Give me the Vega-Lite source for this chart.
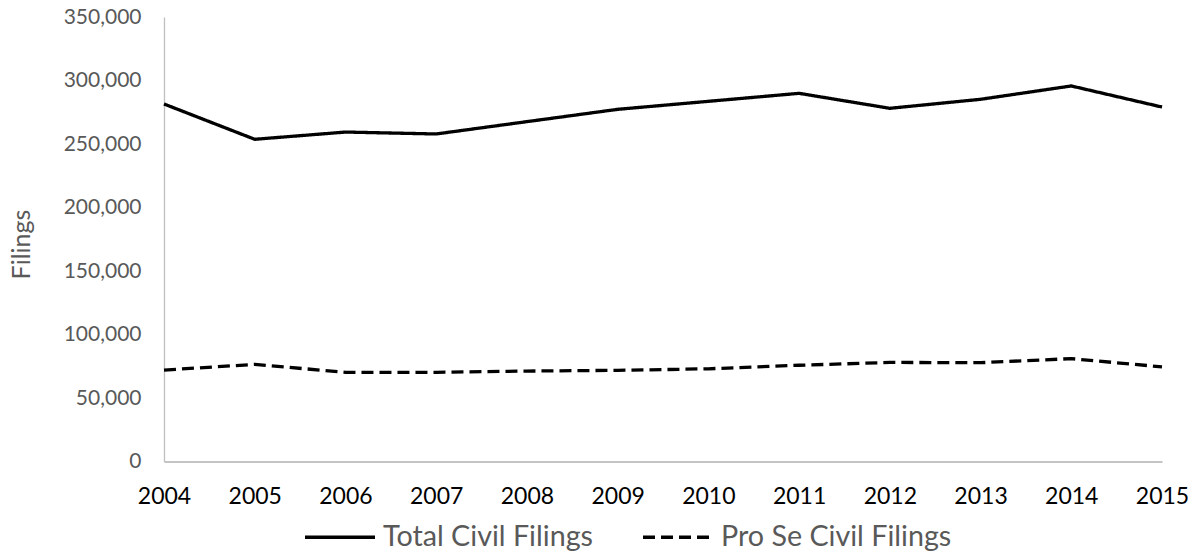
{
  "$schema": "https://vega.github.io/schema/vega-lite/v6.json",
  "width": 998,
  "height": 444.5,
  "autosize": {"type": "none"},
  "padding": {"left": 164, "top": 17, "right": 33, "bottom": 93.5},
  "config": {
    "view": {"stroke": null},
    "font": "Lato",
    "legend": {
      "orient": "none",
      "legendX": 139,
      "legendY": 483,
      "direction": "horizontal",
      "symbolType": "stroke",
      "symbolSize": 4900,
      "symbolStrokeWidth": 3.5,
      "labelFontSize": 28.7,
      "labelColor": "#595959",
      "labelOffset": 6,
      "labelLimit": 0,
      "columnPadding": 42,
      "padding": 0
    }
  },
  "data": {
    "values": [
      {"year": 2004, "series": "Total Civil Filings", "filings": 281500},
      {"year": 2005, "series": "Total Civil Filings", "filings": 253700},
      {"year": 2006, "series": "Total Civil Filings", "filings": 259400},
      {"year": 2007, "series": "Total Civil Filings", "filings": 257900},
      {"year": 2008, "series": "Total Civil Filings", "filings": 267600},
      {"year": 2009, "series": "Total Civil Filings", "filings": 277300},
      {"year": 2010, "series": "Total Civil Filings", "filings": 283600},
      {"year": 2011, "series": "Total Civil Filings", "filings": 289900},
      {"year": 2012, "series": "Total Civil Filings", "filings": 278100},
      {"year": 2013, "series": "Total Civil Filings", "filings": 285200},
      {"year": 2014, "series": "Total Civil Filings", "filings": 295700},
      {"year": 2015, "series": "Total Civil Filings", "filings": 279100},
      {"year": 2004, "series": "Pro Se Civil Filings", "filings": 72000},
      {"year": 2005, "series": "Pro Se Civil Filings", "filings": 76500},
      {"year": 2006, "series": "Pro Se Civil Filings", "filings": 70200},
      {"year": 2007, "series": "Pro Se Civil Filings", "filings": 70200},
      {"year": 2008, "series": "Pro Se Civil Filings", "filings": 71200},
      {"year": 2009, "series": "Pro Se Civil Filings", "filings": 71800},
      {"year": 2010, "series": "Pro Se Civil Filings", "filings": 73000},
      {"year": 2011, "series": "Pro Se Civil Filings", "filings": 75800},
      {"year": 2012, "series": "Pro Se Civil Filings", "filings": 78000},
      {"year": 2013, "series": "Pro Se Civil Filings", "filings": 77800},
      {"year": 2014, "series": "Pro Se Civil Filings", "filings": 81000},
      {"year": 2015, "series": "Pro Se Civil Filings", "filings": 74500}
    ]
  },
  "mark": {"type": "line", "strokeWidth": 3.3, "strokeCap": "butt", "strokeJoin": "round"},
  "encoding": {
    "x": {
      "field": "year",
      "type": "quantitative",
      "scale": {"domain": [2004, 2015], "nice": false, "zero": false},
      "axis": {
        "values": [2004, 2005, 2006, 2007, 2008, 2009, 2010, 2011, 2012, 2013, 2014, 2015],
        "format": "d",
        "title": null,
        "grid": false,
        "ticks": false,
        "labelFontSize": 23,
        "labelColor": "#000000",
        "labelPadding": 24,
        "labelFlush": false,
        "domainColor": "#b0b0b0",
        "domainWidth": 1.3
      }
    },
    "y": {
      "field": "filings",
      "type": "quantitative",
      "scale": {"domain": [0, 350000], "nice": false},
      "axis": {
        "values": [0, 50000, 100000, 150000, 200000, 250000, 300000, 350000],
        "format": ",d",
        "title": "Filings",
        "grid": false,
        "ticks": false,
        "labelFontSize": 21,
        "labelColor": "#595959",
        "labelPadding": 23,
        "domainColor": "#bfbfbf",
        "domainWidth": 1.3,
        "titleFontSize": 25,
        "titleColor": "#595959",
        "titleFontWeight": "normal",
        "titleX": -143,
        "titleY": 227,
        "titleAngle": -90,
        "titleBaseline": "middle",
        "titleAlign": "center"
      }
    },
    "color": {
      "field": "series",
      "type": "nominal",
      "scale": {"domain": ["Total Civil Filings", "Pro Se Civil Filings"], "range": ["#000000", "#000000"]},
      "legend": {"title": null}
    },
    "strokeDash": {
      "field": "series",
      "type": "nominal",
      "scale": {"domain": ["Total Civil Filings", "Pro Se Civil Filings"], "range": [[1, 0], [12, 6]]},
      "legend": {"title": null}
    }
  }
}
